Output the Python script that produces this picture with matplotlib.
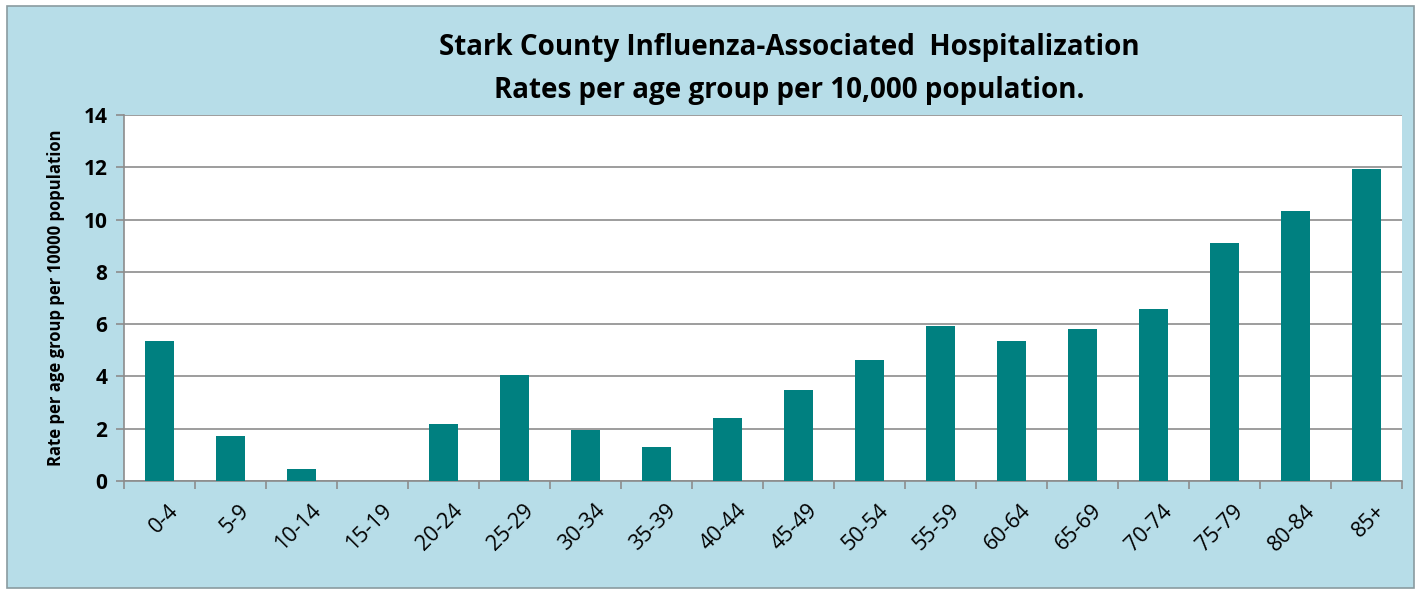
import matplotlib.pyplot as plt
import numpy as np
from matplotlib.patches import Rectangle

age_groups = ['0-4', '5-9', '10-14', '15-19', '20-24', '25-29', '30-34', '35-39',
              '40-44', '45-49', '50-54', '55-59', '60-64', '65-69', '70-74',
              '75-79', '80-84', '85+']
rates = [5.35, 1.72, 0.45, 0.0, 2.2, 4.05, 1.95, 1.3, 2.4, 3.48, 4.63, 5.93,
         5.35, 5.83, 6.58, 9.1, 10.33, 11.92]
yticks = [0, 2, 4, 6, 8, 10, 12, 14]

bg = '#b7dde8'
teal = '#008080'
plt.rcParams['font.family'] = ['Open Sans', 'DejaVu Sans']

fig = plt.figure(figsize=(14.21, 5.90), dpi=100)
fig.patch.set_facecolor('white')
fig.patches.append(Rectangle((0.005, 0.004), 0.99, 0.985, transform=fig.transFigure,
                             facecolor=bg, edgecolor='#8a9ba0', linewidth=1.2, zorder=-1))

ax = fig.add_axes([0.0873, 0.1847, 0.8993, 0.6203])
ax.set_facecolor('white')
x = np.arange(len(age_groups))
ax.bar(x, rates, width=0.4, color=teal, zorder=3)

ax.set_xlim(-0.5, len(age_groups) - 0.5)
ax.set_ylim(0, 14)
ax.set_yticks(yticks)
ax.set_yticklabels([str(v) for v in yticks], fontsize=15, fontweight='bold')
ax.yaxis.grid(True, color='#8c8c8c', linewidth=1.2, zorder=0)

ax.set_xticks(x + 0.12)
ax.set_xticklabels(age_groups, rotation=45, ha='right', rotation_mode='anchor',
                   fontsize=15.5)
ax.tick_params(axis='x', length=0, pad=14)
ax.set_xticks(np.arange(-0.5, len(age_groups)), minor=True)
ax.tick_params(axis='x', which='minor', length=6, color='#8c8c8c', width=1.2)
ax.tick_params(axis='y', length=6, color='#8c8c8c', width=1.2, pad=6)

for side in ['top', 'right']:
    ax.spines[side].set_visible(False)
for side in ['left', 'bottom']:
    ax.spines[side].set_color('#8c8c8c')
    ax.spines[side].set_linewidth(1.2)

ax.set_ylabel('Rate per age group per 10000 population', fontsize=12,
              fontweight='bold', labelpad=13)

fig.text(0.5555, 0.92, 'Stark County Influenza-Associated  Hospitalization',
         ha='center', va='center', fontsize=20, fontweight='bold')
fig.text(0.5555, 0.847, 'Rates per age group per 10,000 population.',
         ha='center', va='center', fontsize=20, fontweight='bold')

plt.savefig('out.png', format='png', facecolor=fig.get_facecolor())
